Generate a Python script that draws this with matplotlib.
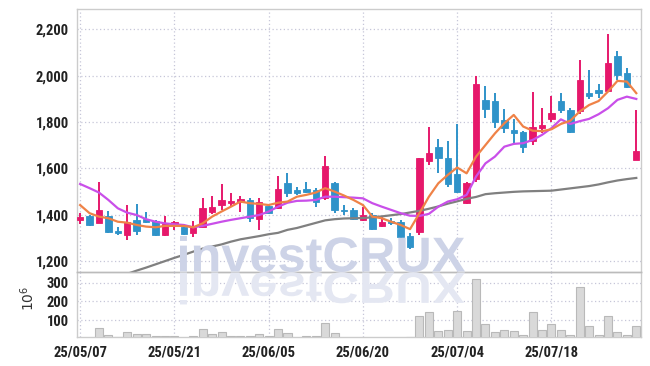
import matplotlib
matplotlib.use("Agg")
import matplotlib.pyplot as plt
import numpy as np
import logging
from matplotlib.textpath import TextPath
from matplotlib.patches import PathPatch
from matplotlib.font_manager import FontProperties, fontManager
from matplotlib.transforms import Affine2D, IdentityTransform

logging.getLogger("matplotlib.font_manager").setLevel(logging.ERROR)

dates = ["25/05/07","25/05/08","25/05/09","25/05/12","25/05/13","25/05/14","25/05/15","25/05/16","25/05/19","25/05/20",
         "25/05/21","25/05/22","25/05/23","25/05/26","25/05/27","25/05/28","25/05/29","25/05/30","25/06/02","25/06/04",
         "25/06/05","25/06/09","25/06/10","25/06/11","25/06/12","25/06/13","25/06/16","25/06/17","25/06/18","25/06/19",
         "25/06/20","25/06/23","25/06/24","25/06/25","25/06/26","25/06/27","25/06/30","25/07/01","25/07/02","25/07/03",
         "25/07/04","25/07/07","25/07/08","25/07/09","25/07/10","25/07/11","25/07/14","25/07/15","25/07/16","25/07/17",
         "25/07/18","25/07/21","25/07/22","25/07/23","25/07/24","25/07/25","25/07/28","25/07/29","25/07/30","25/07/31"]

opens = [1377,1395,1365,1394,1329,1312,1375,1382,1373,1310,1352,1348,1320,1348,1411,1440,1452,1456,1463,1380,
         1437,1427,1535,1508,1511,1506,1470,1538,1420,1420,1377,1398,1351,1373,1369,1308,1326,1633,1690,1643,
         1574,1449,1552,1895,1888,1808,1765,1758,1718,1775,1814,1888,1852,1845,1924,1938,1935,2085,2010,1636]
highs = [1405,1399,1540,1416,1348,1440,1446,1412,1377,1395,1374,1350,1374,1473,1480,1531,1495,1482,1473,1473,
         1445,1567,1578,1520,1542,1515,1653,1542,1441,1427,1432,1406,1391,1384,1377,1319,1645,1777,1725,1718,
         1791,1542,1998,1955,1924,1855,1811,1760,1931,1862,1912,1924,1859,2067,2024,1963,2178,2106,2034,1852]
lows = [1358,1352,1362,1322,1312,1291,1312,1363,1306,1306,1334,1313,1305,1348,1401,1420,1437,1410,1366,1334,
        1401,1423,1477,1485,1492,1434,1463,1408,1398,1377,1371,1334,1345,1355,1298,1250,1312,1614,1578,1520,
        1492,1445,1542,1816,1773,1751,1708,1665,1700,1751,1801,1837,1751,1833,1899,1905,1931,1981,1948,1636]
closes = [1388,1355,1420,1326,1322,1368,1331,1366,1310,1359,1366,1315,1348,1427,1432,1463,1459,1468,1384,1453,
          1405,1509,1495,1495,1498,1456,1610,1420,1416,1381,1398,1338,1369,1362,1305,1262,1643,1665,1643,1531,
          1499,1535,1964,1855,1801,1773,1751,1693,1777,1787,1837,1852,1758,1981,1913,1926,2053,2003,1950,1675]
volumes = [5,5,60,19,10,39,25,25,13,18,13,5,18,53,25,37,18,18,13,28,
           13,55,34,6,18,13,87,34,6,5,5,5,2,2,5,12,121,144,43,50,
           150,43,321,82,37,50,43,23,144,50,82,50,23,278,67,23,123,37,23,67]
ma_short = [1441,1406,1391,1384,1369,1365,1355,1348,1345,1351,1351,1351,1345,1362,1391,1413,1434,1456,1449,1446,
            1441,1451,1456,1477,1485,1495,1514,1499,1482,1463,1441,1391,1384,1369,1355,1337,1406,1477,1535,1571,
            1603,1578,1650,1700,1750,1794,1830,1780,1762,1760,1768,1791,1805,1845,1873,1890,1931,1977,1974,1924]
ma_mid = [1532,1514,1495,1463,1427,1408,1398,1380,1369,1362,1358,1355,1345,1351,1360,1369,1377,1384,1391,1398,
          1413,1434,1451,1459,1460,1463,1477,1477,1475,1473,1470,1449,1434,1420,1406,1395,1394,1403,1434,1456,
          1466,1485,1564,1621,1650,1693,1705,1708,1722,1744,1773,1811,1791,1803,1813,1833,1859,1895,1909,1899]
ma_long = [1082,1094,1107,1119,1132,1144,1158,1171,1185,1199,1213,1226,1240,1253,1262,1271,1283,1293,1300,1307,
           1315,1321,1334,1342,1353,1364,1375,1380,1383,1384,1385,1388,1392,1397,1402,1409,1416,1425,1435,1447,
           1457,1468,1476,1488,1492,1495,1498,1500,1501,1502,1503,1508,1513,1518,1523,1530,1539,1547,1553,1558]
tick_idx = [0, 10, 20, 30, 40, 50]
price_ticks = [1200, 1400, 1600, 1800, 2000, 2200]
vol_ticks = [100, 200, 300]

UP = "#e6186b"
DOWN = "#2f93c9"
GRID = "#c6c6d8"
SPINE = "#cccccc"
TXT = "#222222"

installed = {f.name for f in fontManager.ttflist}
narrow = [n for n in ["Roboto Condensed", "Open Sans Condensed", "Liberation Sans Narrow",
                      "DejaVu Sans Condensed", "Roboto"] if n in installed] or ["DejaVu Sans"]
tick_font = FontProperties(family=[narrow[0], "DejaVu Sans"], weight="bold", size=10.5)

W, H = 650, 366
fig = plt.figure(figsize=(W / 100, H / 100), dpi=100)
L, R = 77 / W, 641 / W
ax = fig.add_axes([L, 1 - 272 / H, R - L, (272 - 9.3) / H])
axv = fig.add_axes([L, 1 - 337 / H, R - L, (337 - 272) / H], sharex=ax)

# watermark + reflection (figure pixel coords)
wm_font = FontProperties(family=["Liberation Sans", "DejaVu Sans"], weight="bold")
tp = TextPath((0, 0), "investCRUX", size=49, prop=wm_font)
bb = tp.get_extents()
sx = 285 / bb.width
x0 = 180
base_y = H - 271.5
t1 = Affine2D().translate(-bb.x0, 0).scale(sx, 1).translate(x0, base_y)
t2 = Affine2D().translate(-bb.x0, 0).scale(sx, -0.9).translate(x0, base_y - 1)
fig.patches.append(PathPatch(t1.transform_path(tp), facecolor="#cdd3e7", edgecolor="none",
                             transform=IdentityTransform(), zorder=0.5, figure=fig))
fig.patches.append(PathPatch(t2.transform_path(tp), facecolor="#e4e7f2", edgecolor="none",
                             transform=IdentityTransform(), zorder=0.5, figure=fig))
ax.patch.set_alpha(0)
axv.patch.set_alpha(0)

x = np.arange(len(dates))
o = np.array(opens); c = np.array(closes); h = np.array(highs); l = np.array(lows)
up = c >= o
cols = np.where(up, UP, DOWN)
ax.vlines(x, l, h, colors=cols, linewidth=1.4, zorder=3)
bot = np.minimum(o, c)
hgt = np.maximum(np.abs(c - o), 3)
ax.bar(x, hgt, bottom=bot, width=0.68, color=cols, edgecolor=cols, linewidth=0.6, zorder=4)

ax.plot(x, ma_long, color="#808080", lw=1.6, zorder=5)
ax.plot(x, ma_mid, color="#c94fe9", lw=1.6, zorder=5)
ax.plot(x, ma_short, color="#ef8247", lw=1.6, zorder=5)

ax.set_xlim(-0.33, 59.5)
ax.set_ylim(1152, 2286)
ax.set_yticks(price_ticks)
ax.set_yticklabels([f"{v:,}" for v in price_ticks])

axv.bar(x, volumes, width=0.85, color="#d9d9d9", edgecolor="#b9b9b9", linewidth=0.8, zorder=3)
axv.set_ylim(10, 357)
axv.set_yticks(vol_ticks)
axv.set_yticklabels([str(v) for v in vol_ticks])
axv.set_xticks(tick_idx)
axv.set_xticklabels([dates[i] for i in tick_idx])
fig.text(28 / W, 1 - 298 / H, r"$10^6$", rotation=90, ha="center", va="center", fontsize=10, color="#333333")

for a in (ax, axv):
    a.grid(True, color=GRID, linestyle=(0, (1, 2)), linewidth=0.9, zorder=1)
    a.set_axisbelow(True)
    for s in a.spines.values():
        s.set_color(SPINE)
        s.set_linewidth(1)
    a.tick_params(length=0, pad=6, colors=TXT)
    for lab in a.get_yticklabels() + a.get_xticklabels():
        lab.set_fontproperties(tick_font)
        lab.set_color(TXT)
ax.tick_params(labelbottom=False)
ax.spines["bottom"].set_color("#bbbbbb")
axv.spines["top"].set_color("#bbbbbb")

fig.savefig("out.png", dpi=100)
